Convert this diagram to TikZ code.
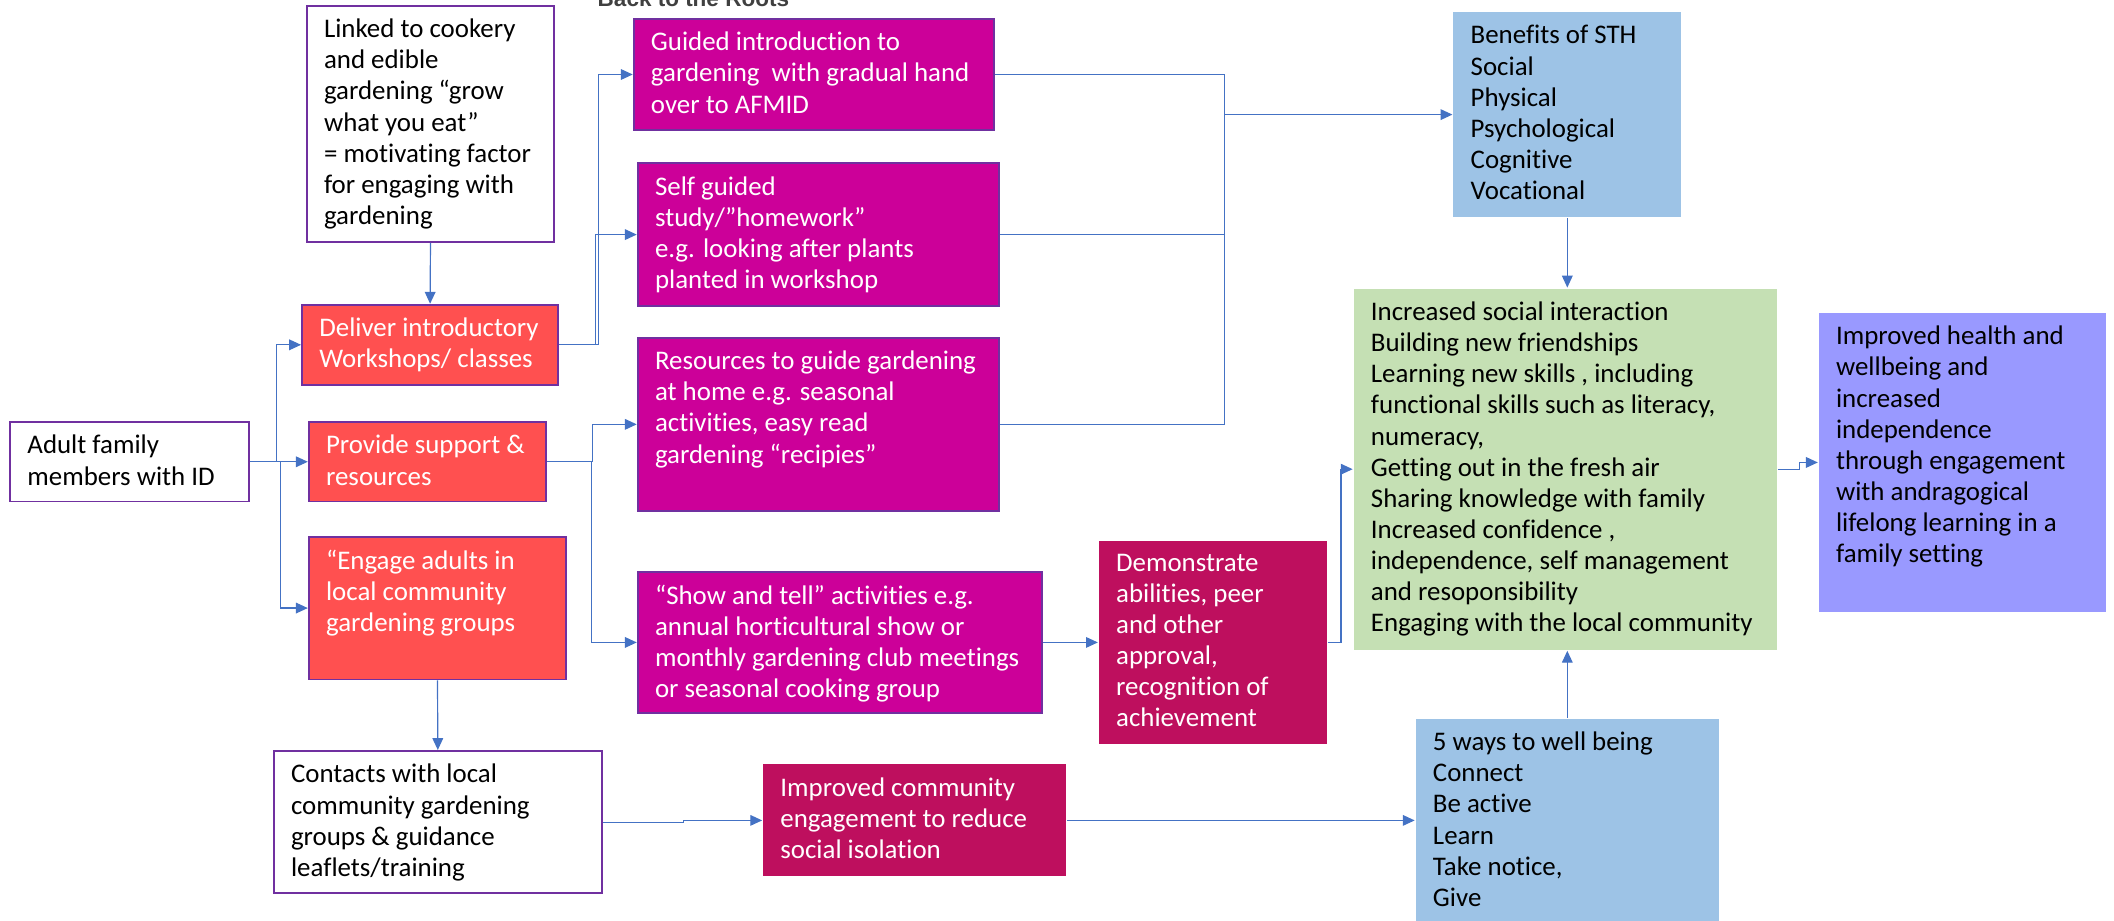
\documentclass[tikz,border=0pt]{standalone}
\usepackage{fontspec}
\setmainfont{Carlito}[Ligatures=NoCommon]
\newfontfamily\titlefont{Liberation Sans}
\usetikzlibrary{fit,arrows.meta}
\definecolor{boxline}{HTML}{7030A0}
\definecolor{redbox}{HTML}{FF5050}
\definecolor{magbox}{HTML}{CC0099}
\definecolor{crimbox}{HTML}{BE0F5E}
\definecolor{bluebox}{HTML}{9DC3E6}
\definecolor{greenbox}{HTML}{C5E0B4}
\definecolor{violetbox}{HTML}{9999FF}
\definecolor{linkblue}{HTML}{4472C4}
\definecolor{titlegray}{HTML}{404040}
\begin{document}
\begin{tikzpicture}[x=0.02cm,y=-0.02cm,
  box/.style={inner sep=0pt,line width=0.8pt},
  txt/.style={anchor=north west,inner sep=0pt,align=left,font=\fontsize{11.35}{13.15}\selectfont},
  link/.style={draw=linkblue,line width=0.5pt},
  arr/.style={link,-{Triangle[length=5pt,width=4.5pt]}}]
\useasboundingbox (0,0) rectangle (1568,683);
\clip (0,0) rectangle (1568,683);
\node[anchor=base west,inner sep=0pt,text=titlegray,font=\titlefont\bfseries\fontsize{9.5}{11}\selectfont] (title) at (443,5) {Back to the Roots};
% left column
\node[box,draw=boxline,fill=white,fit={(7.5,313) (184.6,372)}] (adult) {};
\node[box,draw=boxline,fill=white,fit={(227.6,4.2) (411,179.5)}] (linked) {};
\node[box,draw=boxline,fill=redbox,fit={(224,226) (414,285.5)}] (deliver) {};
\node[box,draw=boxline,fill=redbox,fit={(229,313) (405,372)}] (provide) {};
\node[box,draw=boxline,fill=redbox,fit={(229,398) (420,504)}] (engage) {};
\node[box,draw=boxline,fill=white,fit={(203,557) (446.5,662.6)}] (contacts) {};
% middle column
\node[box,draw=boxline,fill=magbox,fit={(470,14) (737,96.5)}] (guided) {};
\node[box,draw=boxline,fill=magbox,fit={(473,121) (741,227)}] (self) {};
\node[box,draw=boxline,fill=magbox,fit={(473,250.5) (741,379)}] (resources) {};
\node[box,draw=boxline,fill=magbox,fit={(473,424) (773,529)}] (show) {};
\node[box,fill=crimbox,fit={(566,567) (791,650)}] (improved) {};
\node[box,fill=crimbox,fit={(815,401) (984,552)}] (demo) {};
% right column
\node[box,fill=bluebox,fit={(1078,9) (1247,161)}] (benefits) {};
\node[box,fill=greenbox,fit={(1004,214) (1318,482)}] (green) {};
\node[box,fill=violetbox,fit={(1349,232) (1562,454)}] (purple) {};
\node[box,fill=bluebox,fit={(1050,533) (1275,686)}] (fiveways) {};
% texts
\node[txt] (adulttxt) at (20,322.5) {Adult family\\members with ID};
\node[txt] (linkedtxt) at (240,13.7) {Linked to cookery\\and edible\\gardening “grow\\what you eat”\\= motivating factor\\for engaging with\\gardening};
\node[txt,text=white] (delivertxt) at (236.5,235.5) {Deliver introductory\\Workshops/ classes};
\node[txt,text=white] (providetxt) at (241.5,322.5) {Provide support \&\\resources};
\node[txt,text=white] (engagetxt) at (241.5,407.5) {“Engage adults in\\local community\\gardening groups};
\node[txt] (contactstxt) at (215.5,566.5) {Contacts with local\\community gardening\\groups \& guidance\\leaflets/training};
\node[txt,text=white] (guidedtxt) at (482.5,23.5) {Guided introduction to\\gardening\ \ with gradual hand\\over to AFMID};
\node[txt,text=white] (selftxt) at (485.5,130.5) {Self guided\\study/”homework”\\e.g. looking after plants\\planted in workshop};
\node[txt,text=white] (resourcestxt) at (485.5,260) {Resources to guide gardening\\at home e.g. seasonal\\activities, easy read\\gardening “recipies”};
\node[txt,text=white] (showtxt) at (485.5,433.5) {“Show and tell” activities e.g.\\annual horticultural show or\\monthly gardening club meetings\\or seasonal cooking group};
\node[txt,text=white] (improvedtxt) at (578.5,576.5) {Improved community\\engagement to reduce\\social isolation};
\node[txt,text=white] (demotxt) at (827.5,410.5) {Demonstrate\\abilities, peer\\and other\\approval,\\recognition of\\achievement};
\node[txt] (benefitstxt) at (1090.5,18.5) {Benefits of STH\\Social\\Physical\\Psychological\\Cognitive\\Vocational};
\node[txt] (greentxt) at (1016.5,223.5) {Increased social interaction\\Building new friendships\\Learning new skills , including\\functional skills such as literacy,\\numeracy,\\Getting out in the fresh air\\Sharing knowledge with family\\Increased confidence ,\\independence, self management\\and resoponsibility\\Engaging with the local community};
\node[txt] (purpletxt) at (1361.5,241.5) {Improved health and\\wellbeing and\\increased\\independence\\through engagement\\with andragogical\\lifelong learning in a\\family setting};
\node[txt] (fivewaystxt) at (1062.5,542.5) {5 ways to well being\\Connect\\Be active\\Learn\\Take notice,\\Give};
% connectors
\draw[arr] (linked.south) -- (deliver.north);
\draw[arr] (adult.east) -- (provide.west);
\draw[arr] (adult.east) -- ++(20,0) |- (deliver.west);
\draw[arr] (adult.east) -- ++(23,0) |- (engage.west);
\draw[arr] (deliver.east) -- ++(29,0) |- (guided.west);
\draw[arr] (deliver.east) -- ++(27,0) |- (self.west);
\draw[arr] (provide.east) -- ++(34,0) |- (resources.west);
\draw[arr] (provide.east) -- ++(33,0) |- (show.west);
\coordinate (merge) at (908,85);
\draw[link] (self.east) -| (merge);
\draw[link] (resources.east) -| (merge);
\draw[arr] (guided.east) -| (merge) -- (benefits.west);
\draw[arr] (show.east) -- (demo.west);
\draw[arr] (demo.east) -- ++(10,0) |- (green.west);
\draw[arr] (benefits.south) -- (benefits.south |- green.north);
\draw[arr] (fiveways.north) -- (fiveways.north |- green.south);
\draw[arr] (green.east) -- ++(16,0) |- (purple.west);
\draw[arr] (engage.south) -- (contacts.north);
\draw[arr] (contacts.east) -- ++(60,0) |- (improved.west);
\draw[arr] (improved.east) -- (improved.east -| fiveways.west);
\end{tikzpicture}
\end{document}
